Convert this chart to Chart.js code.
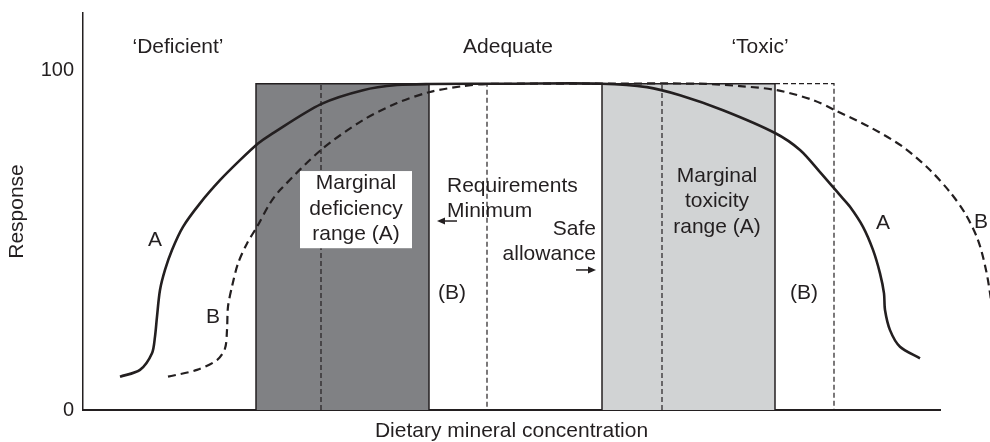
<!DOCTYPE html>
<html>
<head>
<meta charset="utf-8">
<script src="https://cdn.jsdelivr.net/npm/chart.js@4.4.1/dist/chart.umd.min.js"></script>
<style>
  html, body { margin: 0; padding: 0; background: #fff; }
</style>
</head>
<body>
<canvas id="mineralChart" width="990" height="442"></canvas>
<script>
// Response curve A (solid) and B (dashed) - x: concentration units, y: response %
const curveAX = [3.7, 5.7, 6.9, 7.2, 7.4, 7.7, 8.2, 8.9, 10.0, 11.7, 13.7, 15.7, 17.5, 18.7, 23.8, 28.0, 31.4, 34.7, 43.0, 51.9, 56.4, 59.7, 64.0, 69.2, 71.7, 73.7, 75.7, 76.7, 78.0, 79.0, 79.7, 80.1, 80.2, 80.7, 81.7, 83.7];
const curveAY = [9.8, 11.8, 16.7, 21.6, 27.5, 35.3, 41.2, 47.1, 53.9, 60.8, 67.6, 73.5, 78.4, 80.9, 90.0, 94.1, 95.6, 95.9, 96, 96, 95.0, 92.6, 88.2, 81.5, 76.5, 70.0, 63.2, 59.8, 53.9, 47.1, 40.2, 34.3, 29.4, 23.5, 18.6, 15.2];

const curveBX = [8.5, 11.4, 13.4, 14.2, 14.4, 14.5, 14.9, 15.5, 16.4, 17.4, 18.7, 19.7, 23.8, 28.0, 31.4, 34.6, 38.0, 40.4, 50.0, 61.7, 65.7, 69.4, 73.0, 75.2, 78.7, 82.0, 84.7, 86.7, 88.2, 89.5, 90.3, 90.8, 91.3];
const curveBY = [9.8, 11.8, 14.7, 18.1, 23.5, 30.4, 36.3, 43.1, 49.0, 53.9, 60.8, 64.7, 76.5, 85.3, 90.3, 93.5, 95.3, 95.9, 96, 96, 95.3, 94.1, 91.2, 88.2, 83.2, 77.4, 70.6, 64.1, 57.9, 50.0, 41.2, 32.4, 20.0];

// marginal ranges: [start, end] on the concentration axis, top of range in response
const deficiencyRangeA = [17.3, 34.6];
const deficiencyRangeB = [23.8, 40.4];
const toxicityRangeA = [51.9, 69.2];
const toxicityRangeB = [57.9, 75.1];
const rangeTop = 96;

const yTickValues = [0, 100];
const xAxisEnd = 85.7;
const yAxisEnd = 116.8;

const INK = "#231f20";
const FONT = '"Liberation Sans", Arial, Helvetica, sans-serif';

function zip(xs, ys) {
    return xs.map((x, i) => ({ x: x, y: ys[i] }));
}

// closed box from the axis up to the range top
function boxPoints(range) {
    return [
        { x: range[0], y: 0 }, { x: range[0], y: rangeTop },
        { x: range[1], y: rangeTop }, { x: range[1], y: 0 }
    ];
}

// dashed outline of the B range: left side alone, top+right side after the A box ends
function rangeBLeft(range) {
    return [{ x: range[0], y: 0 }, { x: range[0], y: rangeTop }];
}
function rangeBRight(rangeA, rangeB) {
    return [{ x: rangeA[1], y: rangeTop }, { x: rangeB[1], y: rangeTop }, { x: rangeB[1], y: 0 }];
}

// text notes placed in data coordinates
const notes = [
    { text: "\u2018Deficient\u2019", x: 9.5, y: 106.8, align: "center" },
    { text: "Adequate", x: 42.5, y: 106.8, align: "center" },
    { text: "\u2018Toxic\u2019", x: 67.7, y: 106.8, align: "center" },
    { text: "Marginal", x: 27.3, y: 66.8, align: "center" },
    { text: "deficiency", x: 27.3, y: 59.2, align: "center" },
    { text: "range (A)", x: 27.3, y: 51.6, align: "center" },
    { text: "Requirements", x: 36.4, y: 65.9, align: "left" },
    { text: "Minimum", x: 36.4, y: 58.5, align: "left" },
    { text: "Safe", x: 51.3, y: 53.2, align: "right" },
    { text: "allowance", x: 51.3, y: 45.9, align: "right" },
    { text: "(B)", x: 36.9, y: 34.4, align: "center" },
    { text: "Marginal", x: 63.4, y: 68.8, align: "center" },
    { text: "toxicity", x: 63.4, y: 61.5, align: "center" },
    { text: "range (A)", x: 63.4, y: 53.8, align: "center" },
    { text: "(B)", x: 72.1, y: 34.4, align: "center" },
    { text: "A", x: 7.2, y: 50.0, align: "center" },
    { text: "B", x: 13.0, y: 27.4, align: "center" },
    { text: "A", x: 80.0, y: 55.0, align: "center" },
    { text: "B", x: 89.8, y: 55.3, align: "center" }
];

const notesPlugin = {
    id: "notes",
    afterDatasetsDraw(chart) {
        const { ctx, scales: { x, y } } = chart;
        ctx.save();

        // white box behind the deficiency label
        const bx0 = x.getPixelForValue(21.7), bx1 = x.getPixelForValue(32.9);
        const by0 = y.getPixelForValue(70.3), by1 = y.getPixelForValue(47.6);
        ctx.fillStyle = "#ffffff";
        ctx.fillRect(bx0, by0, bx1 - bx0, by1 - by0);

        ctx.fillStyle = INK;
        ctx.font = "21px " + FONT;
        ctx.textBaseline = "middle";
        notes.forEach(n => {
            ctx.textAlign = n.align;
            ctx.fillText(n.text, x.getPixelForValue(n.x), y.getPixelForValue(n.y));
        });

        // small arrows
        drawArrow(ctx, x.getPixelForValue(37.4), x.getPixelForValue(35.4), y.getPixelForValue(55.6));
        drawArrow(ctx, x.getPixelForValue(49.3), x.getPixelForValue(51.3), y.getPixelForValue(41.2));
        ctx.restore();
    }
};

function drawArrow(ctx, fromX, toX, atY) {
    const dir = toX > fromX ? 1 : -1;
    ctx.strokeStyle = INK;
    ctx.lineWidth = 1.5;
    ctx.beginPath();
    ctx.moveTo(fromX, atY);
    ctx.lineTo(toX - dir * 6, atY);
    ctx.stroke();
    ctx.beginPath();
    ctx.moveTo(toX, atY);
    ctx.lineTo(toX - dir * 8, atY - 3.5);
    ctx.lineTo(toX - dir * 8, atY + 3.5);
    ctx.closePath();
    ctx.fill();
}

function getConfigChart() {
    const dashedBox = { borderColor: INK, borderWidth: 1.2, borderDash: [5, 3], fill: false, tension: 0, order: 3 };

    const data = {
        datasets: [
            {
                label: "Marginal deficiency range (A)",
                data: boxPoints(deficiencyRangeA),
                borderColor: INK, borderWidth: 1.5,
                backgroundColor: "#808184",
                fill: "origin", tension: 0, order: 5
            },
            {
                label: "Marginal toxicity range (A)",
                data: boxPoints(toxicityRangeA),
                borderColor: INK, borderWidth: 1.5,
                backgroundColor: "#d1d3d4",
                fill: "origin", tension: 0, order: 5
            },
            Object.assign({ label: "Deficiency (B) left", data: rangeBLeft(deficiencyRangeB) }, dashedBox),
            Object.assign({ label: "Deficiency (B) right", data: rangeBRight(deficiencyRangeA, deficiencyRangeB) }, dashedBox),
            Object.assign({ label: "Toxicity (B) left", data: rangeBLeft(toxicityRangeB) }, dashedBox),
            Object.assign({ label: "Toxicity (B) right", data: rangeBRight(toxicityRangeA, toxicityRangeB) }, dashedBox),
            {
                label: "B",
                data: zip(curveBX, curveBY),
                borderColor: INK, borderWidth: 2.2, borderDash: [8, 5],
                fill: false, tension: 0.3, clip: false, order: 2
            },
            {
                label: "A",
                data: zip(curveAX, curveAY),
                borderColor: INK, borderWidth: 2.6,
                fill: false, tension: 0.3, order: 1
            }
        ]
    };

    return {
        type: "line",
        data: data,
        options: {
            responsive: false,
            animation: false,
            layout: { padding: { top: 13, right: 50, left: 0, bottom: 0 } },
            elements: { point: { radius: 0, hoverRadius: 0 } },
            scales: {
                x: {
                    type: "linear",
                    bounds: "data",
                    // range set here (not via min/max) so the B curve past the axis end is still drawn
                    afterDataLimits: s => { s.min = 0; s.max = xAxisEnd; },
                    grid: { display: false, drawTicks: false },
                    border: { display: true, color: INK, width: 2 },
                    ticks: { display: false },
                    title: {
                        display: true,
                        text: "Dietary mineral concentration",
                        color: INK,
                        font: { family: FONT, size: 21, lineHeight: 1 },
                        padding: 0
                    },
                    afterFit: s => { s.height = 32; s.paddingLeft = 0; s.paddingRight = 0; }
                },
                y: {
                    min: 0,
                    max: yAxisEnd,
                    grid: { display: false, drawTicks: false },
                    border: { display: true, color: INK, width: 1.5 },
                    afterBuildTicks: s => { s.ticks = yTickValues.map(v => ({ value: v })); },
                    ticks: {
                        color: INK,
                        padding: 9,
                        font: { family: FONT, size: 20 }
                    },
                    title: {
                        display: true,
                        text: "Response",
                        color: INK,
                        font: { family: FONT, size: 21 },
                        padding: { top: 5, bottom: 0 }
                    },
                    afterFit: s => { s.width = 83; s.paddingTop = 0; s.paddingBottom = 0; }
                }
            },
            plugins: {
                legend: { display: false },
                tooltip: { enabled: false },
                title: { display: false }
            }
        },
        plugins: [notesPlugin]
    };
}

new Chart(document.getElementById("mineralChart").getContext("2d"), getConfigChart());
</script>
</body>
</html>
